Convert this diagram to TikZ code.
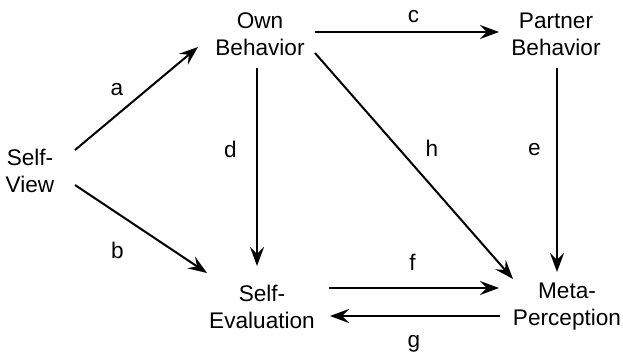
\documentclass[tikz,border=0pt]{standalone}
\usepackage{fontspec}
\setmainfont{Liberation Sans}
\usetikzlibrary{arrows.meta,calc}
\begin{document}
\begin{tikzpicture}[x=1pt,y=-1pt,
  every node/.style={font=\fontsize{22.6}{27}\selectfont},
  concept/.style={align=center,inner sep=0pt,anchor=north},
  lbl/.style={inner sep=0pt,anchor=center},
  link/.style={line width=2pt,-{Stealth[length=19pt,width=14pt,inset=7pt]}}]
\useasboundingbox (0,0) rectangle (623,355);
\node[concept] (sv) at (30,149) {Self-\\View};
\node[concept] (ob) at (260,13) {Own\\Behavior};
\node[concept] (pb) at (556,13) {Partner\\Behavior};
\node[concept] (se) at (262,285) {Self-\\Evaluation};
\node[concept] (mp) at (567,283) {Meta-\\Perception};
% connectors
\draw[link] ($(sv.north)+(45,1)$) -- ($(ob.north)+(-62,34)$);
\draw[link] ($(sv.north)+(45,36)$) -- ($(se.north)+(-55,-12)$);
\draw[link] ($(ob.north)+(55,19)$) -- ($(pb.north)+(-57,19)$);
\draw[link] ($(ob.north)+(-3,55)$) -- ($(se.north)+(-5,-19)$);
\draw[link] ($(pb.north)+(1,55)$) -- ($(mp.north)+(-10,-11)$);
\draw[link] ($(ob.north)+(55,40)$) -- ($(mp.north)+(-54,-4)$);
\draw[link] ($(se.north)+(67,3)$) -- ($(mp.north)+(-68,5)$);
\draw[link] ($(mp.north)+(-67,33)$) -- ($(se.north)+(68,31)$);
% labels
\node[lbl] (la) at (117,90) {a};
\node[lbl] (lb) at (117.5,250) {b};
\node[lbl] (lc) at (413.5,16.5) {c};
\node[lbl] (ld) at (230.5,149.5) {d};
\node[lbl] (le) at (534.5,150) {e};
\node[lbl] (lh) at (432,148.5) {h};
\node[lbl] (lf) at (412.5,262.5) {f};
\node[lbl] (lg) at (414,344) {g};
\end{tikzpicture}
\end{document}
